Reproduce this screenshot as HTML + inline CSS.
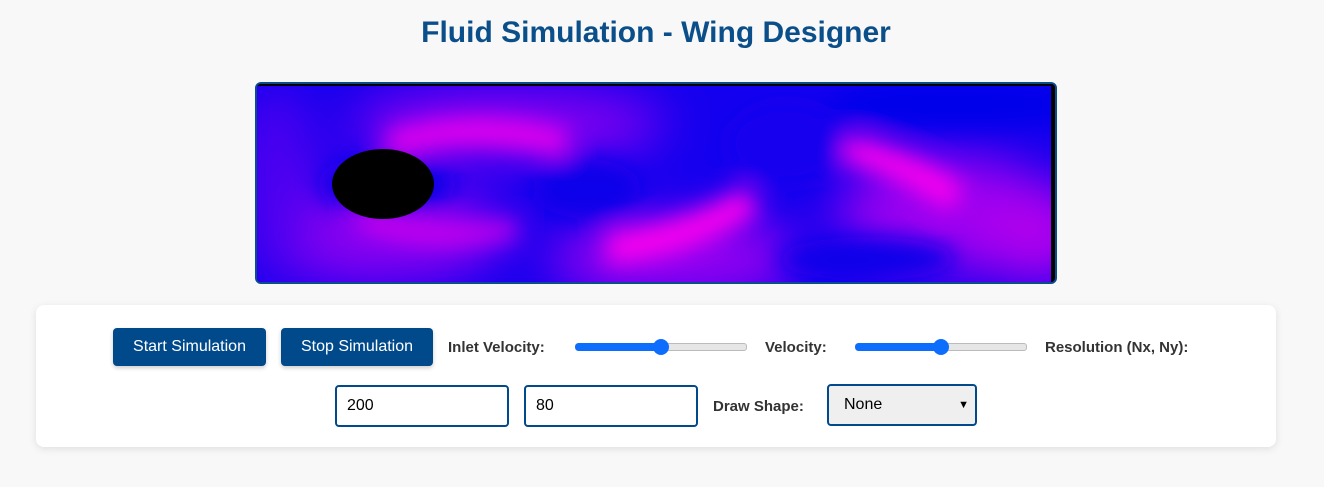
<!DOCTYPE html>
<html><head><meta charset="utf-8"><style>
body{margin:0;width:1324px;height:487px;background:#f8f8f8;font-family:"Liberation Sans",sans-serif;position:relative;overflow:hidden}
.a{position:absolute}
h1{position:absolute;left:0;width:1312px;top:16px;margin:0;text-align:center;font-size:30px;color:#0b4f8a;font-weight:bold}
.btn{position:absolute;top:328px;height:38px;background:#004a8c;color:#fff;border-radius:4px;font-size:16px;line-height:38px;text-align:center;box-shadow:0 2px 4px rgba(0,0,0,.2)}
.lbl{position:absolute;font-size:15px;font-weight:bold;color:#333}
.track{position:absolute;height:6px;border-radius:3px;background:#e6e6e6;border:1px solid #bbb}
.fill{position:absolute;height:8px;border-radius:4px;background:#0d6efd}
.thumb{position:absolute;width:16px;height:16px;border-radius:50%;background:#0d6efd}
.inp{position:absolute;top:385px;border:2px solid #004a8c;border-radius:4px;background:#fff;font-size:16px;line-height:38px;padding-left:10px;box-sizing:border-box;height:42px}
</style></head><body>
<h1>Fluid Simulation - Wing Designer</h1>
<div class="a" style="left:255px;top:82px;width:802px;height:202px;border:2px solid #0a4d8c;border-radius:6px;box-sizing:border-box;overflow:hidden;background:#0a00ec">
<svg width="798" height="198" style="position:absolute;left:0;top:0">
<defs><filter id="b" x="-50%" y="-50%" width="200%" height="200%"><feGaussianBlur stdDeviation="12"/></filter>
<filter id="b2" x="-50%" y="-50%" width="200%" height="200%"><feGaussianBlur stdDeviation="25"/></filter></defs>
<rect width="798" height="198" fill="#1400ee"/>
<g filter="url(#b2)">
<ellipse cx="120" cy="150" rx="130" ry="50" fill="#8a00f0"/>
<ellipse cx="420" cy="175" rx="130" ry="40" fill="#9a00f0"/>
<ellipse cx="690" cy="130" rx="110" ry="60" fill="#9a00f0"/>
<ellipse cx="780" cy="150" rx="60" ry="50" fill="#b000ee"/>
<ellipse cx="250" cy="40" rx="160" ry="35" fill="#8800f0"/>
<ellipse cx="20" cy="100" rx="40" ry="100" fill="#5000f0"/>
</g>
<g filter="url(#b)">
<path d="M130 60 Q220 35 310 60" stroke="#f000ee" stroke-width="24" fill="none"/>
<path d="M100 130 Q160 160 260 145" stroke="#e000ee" stroke-width="16" fill="none"/>
<path d="M350 165 Q440 155 495 115" stroke="#ff00ee" stroke-width="30" fill="none"/>
<path d="M590 65 Q650 80 700 115" stroke="#ff00ee" stroke-width="28" fill="none"/>
<ellipse cx="130" cy="100" rx="70" ry="30" fill="#0800ea"/>
<ellipse cx="330" cy="105" rx="55" ry="30" fill="#0800ea"/>
<ellipse cx="610" cy="175" rx="90" ry="22" fill="#0800ea"/>
<ellipse cx="700" cy="20" rx="130" ry="25" fill="#0600ea"/>
<ellipse cx="530" cy="60" rx="60" ry="40" fill="#1800ee"/>
</g>
<rect x="0" y="0" width="798" height="2" fill="#000"/>
<rect x="794" y="0" width="4" height="198" fill="#000"/>
<ellipse cx="126" cy="100" rx="51" ry="35" fill="#000"/>
</svg></div>
<div class="a" style="left:36px;top:305px;width:1240px;height:142px;background:#fff;border-radius:8px;box-shadow:0 2px 8px rgba(0,0,0,.1)"></div>
<div class="btn" style="left:113px;width:153px">Start Simulation</div>
<div class="btn" style="left:281px;width:152px">Stop Simulation</div>
<div class="lbl" style="left:448px;top:339px">Inlet Velocity:</div>
<div class="track" style="left:575px;top:343px;width:170px"></div>
<div class="fill" style="left:575px;top:343px;width:88px"></div>
<div class="thumb" style="left:653px;top:339px"></div>
<div class="lbl" style="left:765px;top:339px">Velocity:</div>
<div class="track" style="left:855px;top:343px;width:170px"></div>
<div class="fill" style="left:855px;top:343px;width:88px"></div>
<div class="thumb" style="left:933px;top:339px"></div>
<div class="lbl" style="left:1045px;top:339px">Resolution (Nx, Ny):</div>
<div class="inp" style="left:335px;width:174px">200</div>
<div class="inp" style="left:524px;width:174px">80</div>
<div class="lbl" style="left:713px;top:398px">Draw Shape:</div>
<div class="inp" style="left:827px;top:384px;width:150px;background:#efefef;padding-left:15px">None<span style="position:absolute;right:6px;top:0;font-size:11px">&#9660;</span></div>
</body></html>
